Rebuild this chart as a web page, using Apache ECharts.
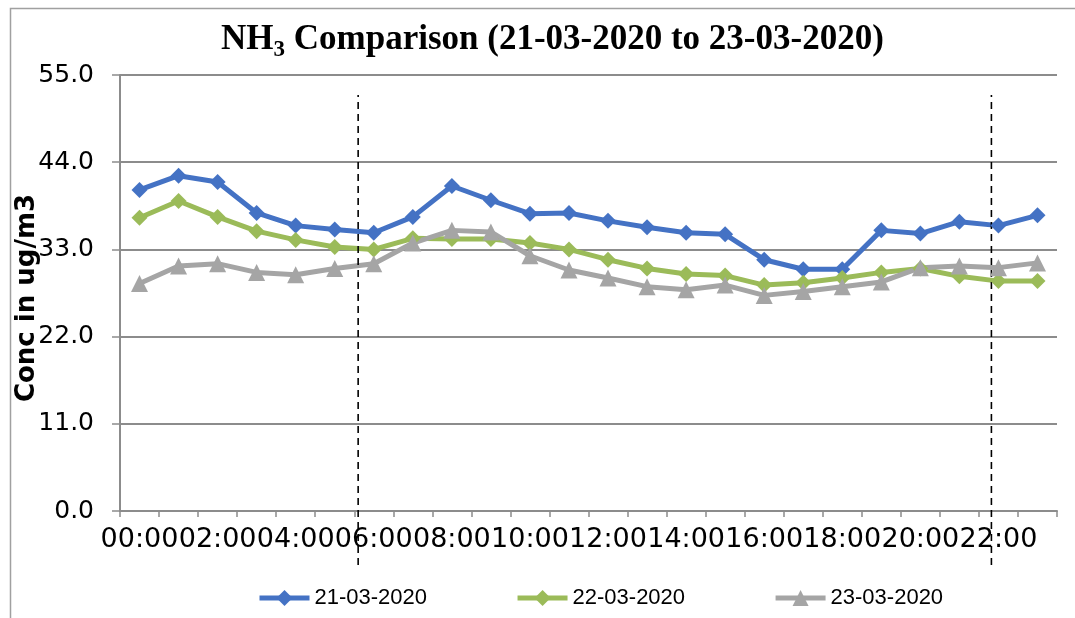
<!DOCTYPE html>
<html>
<head>
<meta charset="utf-8">
<script src="https://cdn.jsdelivr.net/npm/echarts@6/dist/echarts.min.js"></script>
<style>html,body{margin:0;padding:0;background:#fff}#c{width:1075px;height:618px}</style>
</head>
<body>
<div id="c"></div>
<script>
const hours = ['00:00','01:00','02:00','03:00','04:00','05:00','06:00','07:00','08:00','09:00','10:00','11:00','12:00','13:00','14:00','15:00','16:00','17:00','18:00','19:00','20:00','21:00','22:00','23:00'];
const day21 = [40.5,42.3,41.5,37.6,36.0,35.5,35.1,37.1,41.0,39.2,37.5,37.6,36.6,35.8,35.1,34.9,31.7,30.5,30.5,35.4,35.0,36.5,36.0,37.3];
const day22 = [37.0,39.1,37.1,35.3,34.2,33.3,33.0,34.4,34.3,34.3,33.8,33.0,31.7,30.6,29.9,29.7,28.5,28.8,29.4,30.1,30.6,29.6,29.0,29.0];
const day23 = [28.7,30.9,31.2,30.1,29.8,30.6,31.2,33.8,35.4,35.2,32.2,30.4,29.4,28.3,27.9,28.5,27.2,27.7,28.3,28.9,30.7,30.9,30.7,31.3];
const seriesNames = ['21-03-2020','22-03-2020','23-03-2020'];
const dividerHours = [6.1, 22.32];

const chart = echarts.init(document.getElementById('c'), null, {renderer:'canvas'});
const gridColor = '#8c8c8c';
function dataSeries(name, data, color, symbol, size){
  return {
    name, type:'line', data, xAxisIndex:0, yAxisIndex:0,
    symbol, symbolSize:size, showSymbol:true,
    lineStyle:{color, width:5},
    itemStyle:{color},
    animation:false
  };
}
const dividers = dividerHours.map(h => ({
  type:'line', xAxisIndex:1, yAxisIndex:1, data:[[h,0],[h,1]],
  symbol:'none', silent:true, animation:false,
  lineStyle:{color:'#000', width:1.6, type:[7,5]}
}));
chart.setOption({
  backgroundColor:'#fff',
  title:{
    text:'{b|NH}{s|3}{b| Comparison (21-03-2020 to 23-03-2020)}',
    left:216, top:12,
    textStyle:{
      rich:{
        b:{fontFamily:'Liberation Serif', fontWeight:'bold', fontSize:35, color:'#000'},
        s:{fontFamily:'Liberation Serif', fontWeight:'bold', fontSize:23, color:'#000', verticalAlign:'bottom', padding:[22,0,0,0]}
      }
    }
  },
  graphic:[{
    type:'rect', left:8, top:6, shape:{width:1200, height:800},
    style:{fill:'none', stroke:'#a0a0a0', lineWidth:1.5}, silent:true, z:-10
  }],
  legend:{
    data:seriesNames, bottom:4, left:252,
    itemWidth:50, itemHeight:20, itemGap:88,
    lineStyle:{width:5},
    textStyle:{fontFamily:'Liberation Sans', fontSize:22, color:'#000'}
  },
  grid:[
    {left:120, right:18, top:75, bottom:107, outerBoundsMode:'none', containLabel:false},
    {left:120, right:18, top:95, bottom:53, outerBoundsMode:'none', containLabel:false}
  ],
  xAxis:[
    {
      type:'category', data:hours, gridIndex:0, boundaryGap:true,
      axisLine:{lineStyle:{color:gridColor, width:2}},
      axisTick:{show:true, alignWithLabel:false, interval:0, length:6, lineStyle:{color:gridColor, width:1.5}},
      axisLabel:{interval:1, margin:15, fontFamily:'DejaVu Sans', fontSize:27, color:'#000'},
      splitLine:{show:false}
    },
    {type:'value', gridIndex:1, min:0, max:24, show:false}
  ],
  yAxis:[
    {
      type:'value', gridIndex:0, min:0, max:55, interval:11,
      name:'Conc in ug/m3', nameLocation:'middle', nameGap:80, nameMoveOverlap:false,
      nameTextStyle:{fontFamily:'DejaVu Sans', fontWeight:'bold', fontSize:26, color:'#000', padding:[0,10,0,0]},
      axisLine:{show:true, lineStyle:{color:gridColor, width:2}},
      axisTick:{show:true, length:8, lineStyle:{color:gridColor, width:1.5}},
      axisLabel:{margin:26, fontFamily:'DejaVu Sans', fontSize:25, color:'#000', formatter:v=>v.toFixed(1)},
      splitLine:{show:true, lineStyle:{color:gridColor, width:2}}
    },
    {type:'value', gridIndex:1, min:0, max:1, show:false}
  ],
  series:[
    dataSeries(seriesNames[0], day21, '#4472C4', 'diamond', 16),
    dataSeries(seriesNames[1], day22, '#9BBB59', 'diamond', 16),
    dataSeries(seriesNames[2], day23, '#A5A5A5', 'triangle', 17),
    ...dividers
  ]
});
</script>
</body>
</html>
